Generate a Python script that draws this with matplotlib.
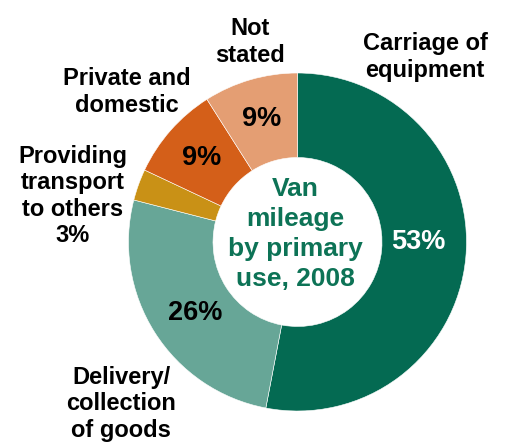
import matplotlib.pyplot as plt
import numpy as np

plt.rcParams['font.family'] = ['Liberation Sans', 'DejaVu Sans']

# van mileage shares, clockwise from 12 o'clock
uses = ['Carriage of\nequipment', 'Delivery/\ncollection\nof goods',
        'Providing\ntransport\nto others', 'Private and\ndomestic', 'Not\nstated']
shares = [53, 26, 3, 9, 9]
colors = ['#046a52', '#67a697', '#c99116', '#d45f19', '#e49e73']

W, H = 505, 443
fig = plt.figure(figsize=(W / 100, H / 100), dpi=100)
ax = fig.add_axes([0, 0, 1, 1])

cx, cy, R = 297.5, H - 242, 169
ax.pie(shares, colors=colors, startangle=90, counterclock=False,
       center=(cx, cy), radius=R, frame=True,
       wedgeprops=dict(width=R * 0.5, edgecolor='white', linewidth=0.4))
ax.set_xlim(0, W)
ax.set_ylim(0, H)
ax.set_aspect('equal')
ax.axis('off')

# percentage labels inside the ring
bounds = np.cumsum([0] + shares) / sum(shares) * 360
mids = 90 - (bounds[:-1] + bounds[1:]) / 2
pct_r = [0.72, 0.72, None, 0.76, 0.77]
pct_dy = [11, -6, 0, -1, -2]
pct_col = ['white', 'black', None, 'black', 'black']
for i, v in enumerate(shares):
    if pct_r[i] is None:
        continue
    a = np.radians(mids[i])
    ax.text(cx + pct_r[i] * R * np.cos(a), cy + pct_r[i] * R * np.sin(a) + pct_dy[i],
            f'{v}%', ha='center', va='center', fontsize=19.5,
            fontweight='bold', color=pct_col[i])

# category labels outside the ring
label_pos = [(425, 57), (121, 404), (73, 196), (127, 92), (250, 42)]
for i, (name, (px, py)) in enumerate(zip(uses, label_pos)):
    txt = name + (f'\n{shares[i]}%' if i == 2 else '')
    ax.text(px, H - py, txt, ha='center', va='center', fontsize=17,
            fontweight='bold', color='black', linespacing=1.2)

ax.text(295, H - 234, 'Van\nmileage\nby primary\nuse, 2008', ha='center',
        va='center', fontsize=19, fontweight='bold', color='#0d7356',
        linespacing=1.3)

fig.savefig('out.png', dpi=100)
